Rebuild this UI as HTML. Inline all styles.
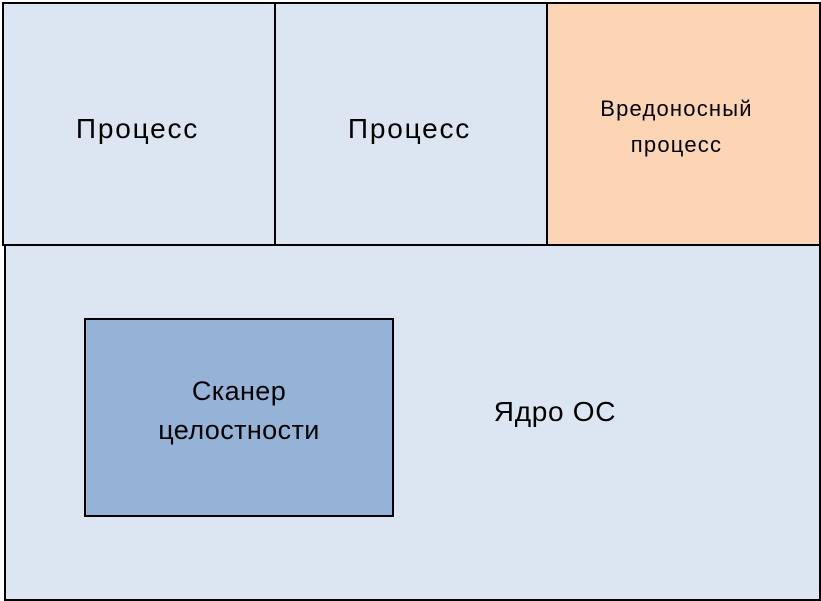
<!DOCTYPE html>
<html><head><meta charset="utf-8"><style>
body{margin:0;width:821px;height:601px;background:#fff;position:relative;overflow:hidden;font-family:"Liberation Sans","DejaVu Sans",sans-serif;color:#000}
.b{position:absolute;box-sizing:border-box;border:2px solid #000;display:flex;align-items:center;justify-content:center;text-align:center}
</style></head><body>
<div class="b" style="left:4px;top:243px;width:817px;height:358px;background:#dce6f2"></div>
<div style="position:absolute;left:440px;top:396px;width:230px;text-align:center;font-size:28px;letter-spacing:0.7px">Ядро ОС</div>
<div class="b" style="left:2px;top:2px;width:275px;height:244px;background:#dce6f2;font-size:28px;letter-spacing:1.8px;padding-top:10px;padding-right:4px">Процесс</div>
<div class="b" style="left:274px;top:2px;width:275px;height:244px;background:#dce6f2;font-size:28px;letter-spacing:1.8px;padding-top:10px;padding-right:4px">Процесс</div>
<div class="b" style="left:546px;top:2px;width:275px;height:244px;background:#fcd5b5;font-size:22px;letter-spacing:1.2px;line-height:36px;padding-top:6px;padding-right:14px">Вредоносный<br>процесс</div>
<div class="b" style="left:84px;top:318px;width:310px;height:199px;background:#95b3d7;font-size:27px;letter-spacing:0.4px;line-height:39px;padding-bottom:14px">Сканер<br>целостности</div>
</body></html>
